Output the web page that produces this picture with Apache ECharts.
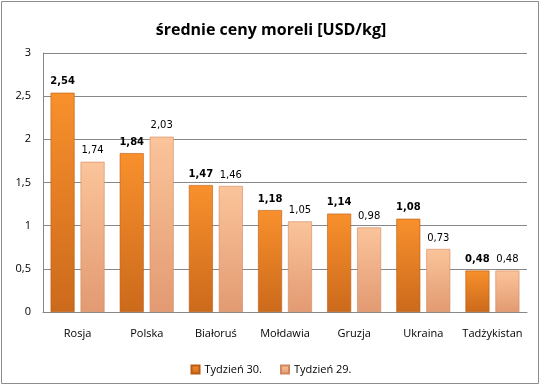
<!DOCTYPE html>
<html><head><meta charset="utf-8">
<script src="https://cdn.jsdelivr.net/npm/echarts@6/dist/echarts.min.js"></script>
<style>html,body{margin:0;padding:0;background:#fff}#c{width:542px;height:386px}</style>
</head><body><div id="c"></div>
<script>
const categories = ['Rosja','Polska','Białoruś','Mołdawia','Gruzja','Ukraina','Tadżykistan'];
const week30 = [2.54, 1.84, 1.47, 1.18, 1.14, 1.08, 0.48];
const week29 = [1.74, 2.03, 1.46, 1.05, 0.98, 0.73, 0.48];
const seriesNames = ['Tydzień 30.', 'Tydzień 29.'];
const yTicks = [0, 0.5, 1, 1.5, 2, 2.5, 3];

const fmt = v => String(v).replace('.', ',');
const vgrad = (a,b) => new echarts.graphic.LinearGradient(0,0,0,1,[
  {offset:0,color:a},{offset:1,color:b}]);
const chart = echarts.init(document.getElementById('c'));
chart.setOption({
  animation:false,
  graphic:[{type:'rect',shape:{x:1.5,y:1.5,width:537,height:382},style:{fill:'none',stroke:'#8c8c8c',lineWidth:1}}],
  title:{text:'średnie ceny moreli [USD/kg]',left:'center',top:17,
    textStyle:{fontFamily:'Open Sans',fontWeight:'bold',fontSize:16,color:'#000'}},
  legend:{bottom:6,left:'center',itemWidth:8,itemHeight:8,itemGap:18,icon:'rect',
    textStyle:{fontFamily:'Open Sans',fontSize:11,color:'#000'},
    data:seriesNames},
  grid:{left:43,right:15,top:53,bottom:74},
  xAxis:{type:'category',data:categories,
    axisLine:{lineStyle:{color:'#888'}},axisTick:{show:false},
    axisLabel:{color:'#000',fontFamily:'Open Sans',fontSize:11,margin:16,interval:0}},
  yAxis:{type:'value',min:yTicks[0],max:yTicks[yTicks.length-1],interval:0.5,
    axisLine:{show:true,lineStyle:{color:'#888'}},axisTick:{show:false},
    splitLine:{lineStyle:{color:'#888'}},
    axisLabel:{color:'#000',fontFamily:'Open Sans',fontSize:11,margin:12,formatter:fmt}},
  series:[
    {name:seriesNames[0],type:'bar',data:week30,barGap:'25%',barCategoryGap:'22%',
     itemStyle:{color:vgrad('#f8902c','#cc6a1c'),borderColor:'#b85c14',borderWidth:0.6},
     label:{show:true,position:'top',distance:6,fontFamily:'DejaVu Sans',fontWeight:'bold',fontSize:10,color:'#000',formatter:p=>fmt(p.value.toFixed(2))}},
    {name:seriesNames[1],type:'bar',data:week29,
     itemStyle:{color:vgrad('#fbc49a','#e29a72'),borderColor:'#d08860',borderWidth:0.6},
     label:{show:true,position:'top',distance:6,fontFamily:'DejaVu Sans',fontSize:10,color:'#000',formatter:p=>fmt(p.value.toFixed(2))}}
  ]
});
</script></body></html>
